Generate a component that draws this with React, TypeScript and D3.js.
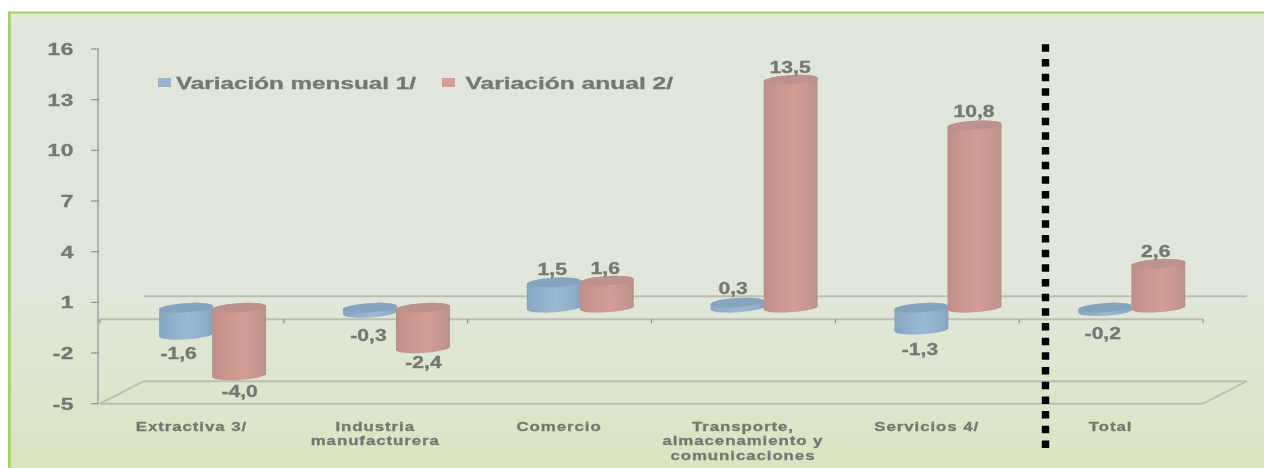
import React from "react";
import * as d3 from "d3";

const categories = [
  ["Extractiva 3/"],
  ["Industria", "manufacturera"],
  ["Comercio"],
  ["Transporte,", "almacenamiento y", "comunicaciones"],
  ["Servicios 4/"],
  ["Total"],
];
const monthly = [-1.6, -0.3, 1.5, 0.3, -1.3, -0.2];
const annual = [-4.0, -2.4, 1.6, 13.5, 10.8, 2.6];
const yTicks = [16, 13, 10, 7, 4, 1, -2, -5];
const seriesNames = ["Variación mensual 1/", "Variación anual 2/"];

const W = 1264, H = 468;
const left = 100, right = 1203, top = 49, bottom = 403.7;
const depthX = 44, depthY = 22.5;
const RX = 27, RY = 4.6, TILT = -3.5;
const FONT = "'Liberation Sans', Arial, sans-serif";
const TEXT = "#757770";
const LINE = "#bcbeb5";

const y = d3.scaleLinear().domain([-5, 16]).range([bottom, top]);
const x = d3.scaleBand<number>().domain(d3.range(categories.length)).range([left, right]);
const lift = 11.5;

function cylinderPaths(cx: number, v: number) {
  const y0 = y(0) - lift;
  const yv = y(v) - lift;
  const yTop = Math.min(y0, yv);
  const yBot = Math.max(y0, yv);
  const t = RX * Math.sin((-TILT * Math.PI) / 180);
  const body =
    `M${cx - RX},${yTop + t} L${cx - RX},${yBot + t} ` +
    `A${RX},${RY} ${TILT} 0 0 ${cx + RX},${yBot - t} ` +
    `L${cx + RX},${yTop - t} A${RX},${RY} ${TILT} 0 0 ${cx - RX},${yTop + t} Z`;
  const cap =
    `M${cx - RX},${yTop + t} A${RX},${RY} ${TILT} 0 1 ${cx + RX},${yTop - t} ` +
    `A${RX},${RY} ${TILT} 0 1 ${cx - RX},${yTop + t} Z`;
  return { body, cap, yTop, yBot };
}

function Label(p: { x: number; y: number; sx: number; size: number; anchor?: string; ls?: number; children: React.ReactNode }) {
  return (
    <text
      transform={`translate(${p.x},${p.y}) scale(${p.sx},1)`}
      textAnchor={p.anchor ?? "middle"}
      fontFamily={FONT}
      fontWeight="bold"
      fontSize={p.size}
      letterSpacing={p.ls ?? 0}
      fill={TEXT}
      stroke={TEXT}
      strokeWidth={0.3}
    >
      {p.children}
    </text>
  );
}

const fmt = (v: number) => v.toFixed(1).replace(".", ",");

export default function App() {
  const band = x.bandwidth();
  const series = [
    {
      values: monthly,
      dx: 20.7 - 26.5,
      grad: "url(#blueG)",
      cap: "#87a4be",
      nudge: [-7.5, -1.5, -1.5, -4.5, -1.5, -2.5],
      ny: [0, 4, 2, 0, 1, 4],
    },
    {
      values: annual,
      dx: 20.7 + 26.5,
      grad: "url(#redG)",
      cap: "#bc928c",
      nudge: [0.5, 0.5, -1.5, -0.5, -0.5, -2.5],
      ny: [-2, -4, 2, 2, 1, 2],
    },
  ];
  return (
    <svg width={W} height={H} style={{ position: "absolute", left: 0, top: 0, display: "block" }}>
      <defs>
        <linearGradient id="bg" x1="0" x2="0" y1="0" y2="1">
          <stop offset="0" stopColor="#e4e8d9" />
          <stop offset="0.03" stopColor="#e1e6da" />
          <stop offset="0.6" stopColor="#e1e6da" />
          <stop offset="1" stopColor="#d9e5c0" />
        </linearGradient>
        <linearGradient id="blueG" x1="0" x2="1" y1="0" y2="0">
          <stop offset="0" stopColor="#86a5c1" />
          <stop offset="0.2" stopColor="#90aeca" />
          <stop offset="0.55" stopColor="#9bb9d3" />
          <stop offset="0.85" stopColor="#91aec8" />
          <stop offset="1" stopColor="#86a2bc" />
        </linearGradient>
        <linearGradient id="redG" x1="0" x2="1" y1="0" y2="0">
          <stop offset="0" stopColor="#ba908a" />
          <stop offset="0.2" stopColor="#ca948d" />
          <stop offset="0.55" stopColor="#d29c94" />
          <stop offset="0.85" stopColor="#c59790" />
          <stop offset="1" stopColor="#b6928c" />
        </linearGradient>
        <filter id="soft" x="-5%" y="-5%" width="110%" height="110%">
          <feGaussianBlur stdDeviation="0.65" />
        </filter>
      </defs>
      <rect x={9.5} y={12} width={W} height={H} fill="url(#bg)" />
      <rect x={8} y={11.5} width={W} height={2} fill="#a3d165" />
      <rect x={8} y={11.5} width={2.8} height={H} fill="#a3d165" />

      <g filter="url(#soft)">
        {/* floor and walls */}
        <g stroke={LINE} strokeWidth={2} fill="none">
          <line x1={left + depthX} x2={right + depthX} y1={y(0) - depthY - 0.5} y2={y(0) - depthY - 0.5} />
          <line x1={left + depthX} x2={right + depthX} y1={bottom - depthY} y2={bottom - depthY} />
          <line x1={left} x2={right} y1={bottom} y2={bottom} />
          <line x1={left} x2={left + depthX} y1={bottom} y2={bottom - depthY} />
          <line x1={right} x2={right + depthX} y1={bottom} y2={bottom - depthY} />
          <line x1={left} x2={right} y1={y(0)} y2={y(0)} />
          <line x1={left - 2} x2={left - 2} y1={top} y2={bottom} strokeWidth={2.2} stroke="#b5b6ae" />
        </g>
        {yTicks.map((t) => (
          <line key={t} x1={91} x2={left - 1} y1={y(t)} y2={y(t)} stroke="#8f918a" strokeWidth={1.2} />
        ))}
        {d3.range(categories.length + 1).map((i) => (
          <line
            key={i}
            x1={left + i * band}
            x2={left + i * band}
            y1={y(0)}
            y2={y(0) + 4}
            stroke="#8f918a"
            strokeWidth={1.2}
          />
        ))}
        {yTicks.map((t) => (
          <Label key={t} x={74} y={y(t) + 6} sx={1.38} size={16.5} anchor="end" ls={0.4}>
            {t}
          </Label>
        ))}

        {/* cylinders */}
        {categories.map((_, i) =>
          series.map((s, k) => {
            const cx = (x(i) as number) + band / 2 + s.dx;
            const p = cylinderPaths(cx, s.values[i]);
            return (
              <g key={`${i}-${k}`}>
                <path d={p.body} fill={s.grad} />
                <path d={p.cap} fill={s.cap} />
              </g>
            );
          })
        )}

        {/* value labels */}
        {categories.map((_, i) =>
          series.map((s, k) => {
            const v = s.values[i];
            const cx = (x(i) as number) + band / 2 + s.dx + s.nudge[i];
            const p = cylinderPaths(cx, v);
            const ly = (v >= 0 ? p.yTop - 9 : p.yBot + 24) + s.ny[i];
            return (
              <Label key={`l${i}-${k}`} x={cx} y={ly} sx={1.32} size={16}>
                {fmt(v)}
              </Label>
            );
          })
        )}

        {/* category labels */}
        {categories.map((lines, i) =>
          lines.map((ln, j) => (
            <Label
              key={`c${i}-${j}`}
              x={(x(i) as number) + band / 2 - 0.5}
              y={430.5 + j * 14.5}
              sx={1.3}
              size={13}
              ls={0.7}
            >
              {ln}
            </Label>
          ))
        )}

        {/* legend */}
        <rect x={158} y={78} width={13} height={9} fill="#9ab4cf" />
        <Label x={176} y={88.5} sx={1.47} size={16.5} anchor="start">
          {seriesNames[0]}
        </Label>
        <rect x={442} y={78} width={13} height={9} fill="#d19d96" />
        <Label x={465.5} y={88.5} sx={1.49} size={16.5} anchor="start">
          {seriesNames[1]}
        </Label>
      </g>

      {/* divider */}
      <line x1={1045.5} x2={1045.5} y1={44.3} y2={449} stroke="#000" strokeWidth={7.4} strokeDasharray="7.5 7.17" />
    </svg>
  );
}
